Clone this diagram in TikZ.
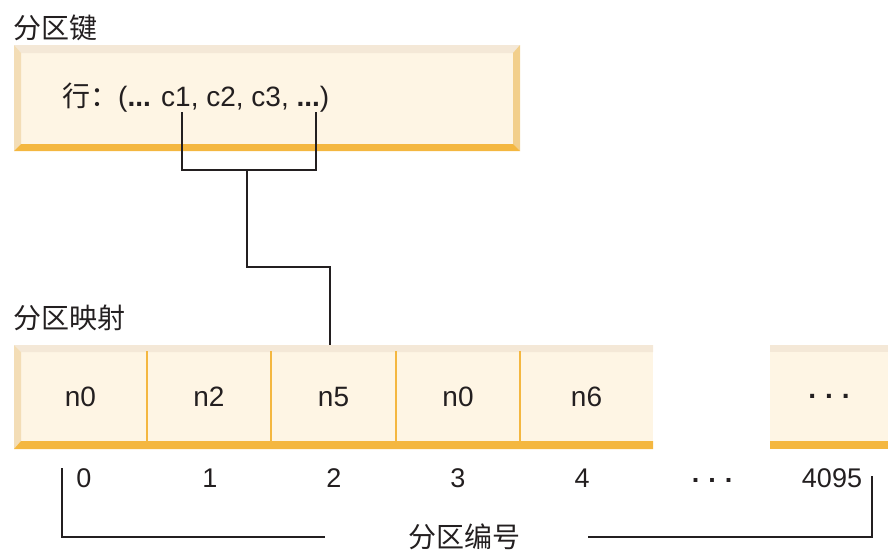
\documentclass[tikz,border=0pt]{standalone}
\usepackage{fontspec}
\setmainfont{Liberation Sans}
\newfontfamily\cjk{Noto Sans CJK SC}
\definecolor{cream}{HTML}{FEF5E4}
\definecolor{bevtop}{HTML}{F4E8D7}
\definecolor{bevleft}{HTML}{F3DDB6}
\definecolor{bevright}{HTML}{F2CF8C}
\definecolor{orangeband}{HTML}{F4B740}
\definecolor{ink}{HTML}{231F20}
\begin{document}
\begin{tikzpicture}[x=1pt,y=-1pt,
 lbl/.style={font=\fontsize{27}{30}\selectfont, text=ink, inner sep=0pt, text height=19.4pt, text depth=0pt},
 cjklbl/.style={font=\cjk\fontsize{28}{32}\selectfont, text=ink, inner sep=0pt},
 cell/.style={minimum height=104pt, inner sep=0pt, font=\fontsize{28}{32}\selectfont, text=ink, text height=20pt, text depth=0pt},
 wire/.style={draw=ink, line width=1.4pt},
 sep/.style={draw=orangeband, line width=1.6pt}]
\useasboundingbox (0,0) rectangle (888,550);

% titles
\node[cjklbl, anchor=west] (keytitle) at (13,28) {分区键};
\node[cjklbl, anchor=west] (maptitle) at (13,318) {分区映射};

% top box (partition key)
\fill[cream] (14,45) rectangle (520,151);
\fill[bevtop] (14,45) -- (520,45) -- (513,53) -- (21,53) -- cycle;
\fill[bevleft] (14,45) -- (21,53) -- (21,144) -- (14,151) -- cycle;
\fill[bevright] (520,45) -- (513,53) -- (513,144) -- (520,151) -- cycle;
\fill[orangeband] (21,144) -- (513,144) -- (520,151) -- (14,151) -- cycle;
\node[font=\fontsize{28}{32}\selectfont, text=ink, inner sep=0pt, anchor=west] (row) at (62,98)
  {{\cjk 行：}(\textbf{...} c1, c2, c3, \textbf{...})};

% map row
\fill[cream] (14,345) rectangle (653,449);
\fill[bevtop] (14,345) -- (653,345) -- (653,352) -- (21,352) -- cycle;
\fill[bevleft] (14,345) -- (21,352) -- (21,441) -- (14,449) -- cycle;
\fill[orangeband] (21,441) -- (653,441) -- (653,449) -- (14,449) -- cycle;
\fill[cream] (770,345) rectangle (888,449);
\fill[bevtop] (770,345) rectangle (888,352);
\fill[orangeband] (770,441) rectangle (888,449);
\foreach \x in {147,271,396,520} \draw[sep] (\x,351) -- (\x,449);

\node[cell, minimum width=133pt] (m0) at (80.5,396) {n0};
\node[cell, minimum width=124pt] (m1) at (209,396) {n2};
\node[cell, minimum width=125pt] (m2) at (333.5,396) {n5};
\node[cell, minimum width=124pt] (m3) at (458,396) {n0};
\node[cell, minimum width=133pt] (m4) at (586.5,396) {n6};
\node[cell, minimum width=118pt, text height=4pt] (m5) at (829,396) {\bfseries .\hspace{9pt}.\hspace{9pt}.};

% numbers
\node[lbl] (p0) at (84,478) {0};
\node[lbl] (p1) at (210,478) {1};
\node[lbl] (p2) at (334,478) {2};
\node[lbl] (p3) at (458,478) {3};
\node[lbl] (p4) at (582,478) {4};
\node[lbl, text height=4pt] (pd) at (712,480) {\bfseries .\hspace{9pt}.\hspace{9pt}.};
\node[lbl] (p4095) at (832,478) {4095};
\node[cjklbl] (pnum) at (464,537) {分区编号};

% connectors from key columns to map
\coordinate (k1) at (182,112);
\coordinate (k2) at (316,112);
\coordinate (kj) at (247,170);
\coordinate (kmid) at (290,267);
\coordinate (m2top) at (330,345);
\draw[wire] (k1) |- (kj) -| (k2);
\draw[wire] (kj) |- (kmid) -| (m2top);

% bracket under numbers
\coordinate (bl) at (62,468);
\coordinate (bla) at (325,537);
\coordinate (bra) at (588,537);
\coordinate (br) at (872,476);
\draw[wire] (bl) |- (bla);
\draw[wire] (bra) -| (br);
\end{tikzpicture}
\end{document}
